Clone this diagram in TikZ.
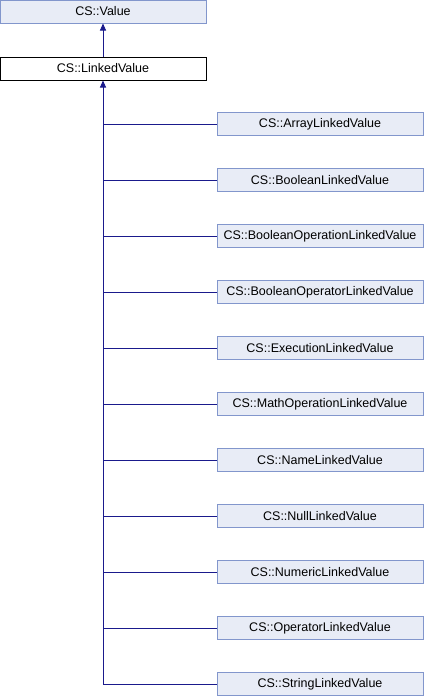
\documentclass[tikz,border=0pt]{standalone}
\usepackage{fontspec}
\setmainfont{Liberation Sans}
\usetikzlibrary{arrows.meta}
\definecolor{edgec}{HTML}{1A1A8C}
\definecolor{boxfill}{HTML}{E8ECF6}
\definecolor{boxdraw}{HTML}{8296CC}
\begin{document}
\begin{tikzpicture}[x=1pt,y=-1pt,
  cls/.style={draw=boxdraw,fill=boxfill,line width=1pt,minimum width=206pt,minimum height=23pt,inner sep=0pt,font=\fontsize{12.5}{14}\selectfont},
  cur/.style={draw=black,fill=white,line width=1pt,minimum width=206pt,minimum height=23pt,inner sep=0pt,font=\fontsize{12.5}{14}\selectfont},
  edge/.style={draw=edgec,line width=0.9pt},
  inh/.style={edge,-{Triangle[length=7pt,width=6pt]}}]
\useasboundingbox (0,0) rectangle (424,696);
\node[cls] (value) at (103,11.5) {CS::Value};
\node[cur] (linked) at (103,68.5) {CS::LinkedValue};
\draw[inh] (linked.north) -- (value.south);
\coordinate (bottom) at (103,684);
\draw[inh] (bottom) -- (linked.south);
\foreach \n/\t [count=\i from 0] in {
  c1/CS::ArrayLinkedValue,
  c2/CS::BooleanLinkedValue,
  c3/CS::BooleanOperationLinkedValue,
  c4/CS::BooleanOperatorLinkedValue,
  c5/CS::ExecutionLinkedValue,
  c6/CS::MathOperationLinkedValue,
  c7/CS::NameLinkedValue,
  c8/CS::NullLinkedValue,
  c9/CS::NumericLinkedValue,
  c10/CS::OperatorLinkedValue,
  c11/CS::StringLinkedValue}{
  \node[cls] (\n) at (320,124+56*\i) {\t};
  \coordinate (j\n) at (103,124+56*\i);
  \draw[edge] (j\n) -- (\n.west);
}
\end{tikzpicture}
\end{document}
